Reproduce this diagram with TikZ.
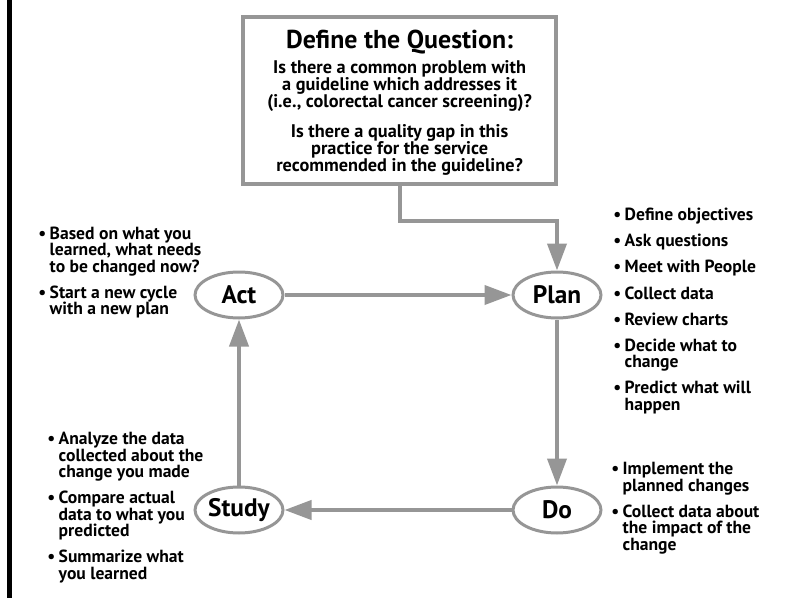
\documentclass[tikz,border=0pt]{standalone}
\usepackage{fontspec}
\setmainfont{PT Sans}
\usetikzlibrary{calc,shapes.geometric,arrows.meta}
\definecolor{linegray}{RGB}{150,150,150}
\newcommand{\bul}{\textbullet\hspace{0.2em}}
\newcommand{\ind}{\phantom{\textbullet\hspace{0.2em}}}
\lineskiplimit=-100pt

\begin{document}
\begin{tikzpicture}[
  phase/.style={ellipse,draw=linegray,line width=0.75mm,fill=white,minimum width=22mm,minimum height=11.5mm,inner sep=0pt,font=\fontsize{18}{20}\selectfont\bfseries},
  notes/.style={anchor=west,align=left,inner sep=0pt,font=\fontsize{12.5}{11.7}\selectfont\bfseries},
  flow/.style={draw=linegray,line width=1mm,-{Triangle[length=6.75mm,width=4.75mm]}}
]
\useasboundingbox (0,0) rectangle (197mm,-149.5mm);
\draw[line width=1.25mm] (2.4mm,0) -- (2.4mm,-149.5mm);

\draw node [draw=linegray,rectangle,line width=0.9mm,minimum width=78.25mm,minimum height=41.75mm](question) at (99.9mm,-25.1mm){};
\draw node (qtitle) at ($ (question) + (0mm,14.6mm) $){\fontsize{18.4}{20}\selectfont\bfseries Define the Question:};
\draw node [align=center,font=\fontsize{13}{12.1}\selectfont\bfseries] (qtext) at ($ (question) - (0mm,4.3mm) $){Is there a common problem with\\a guideline which addresses it\\(i.e., colorectal cancer screening)?\\[3.25mm]Is there a quality gap in this\\practice for the service\\recommended in the guideline?};

\draw node [phase] (act) at (59.75mm,-73.75mm){Act};
\draw node [phase] (plan) at (139.25mm,-73.75mm){Plan};
\draw node [phase] (study) at (59.75mm,-127.5mm){Study};
\draw node [phase] (do) at (139.25mm,-127.5mm){Do};

\draw[flow] (question.south) -- ++(0,-8.75mm) -| (plan.north);
\draw[flow] (act) -- (plan);
\draw[flow] (plan) -- (do);
\draw[flow] (do) -- (study);
\draw[flow] (study) -- (act);

\draw node [notes] (actnotes) at ($ (act) + (-50.25mm,5.6mm) $){\bul Based on what you\\\ind learned, what needs\\\ind to be changed now?\\[2.4mm]\bul Start a new cycle\\\ind with a new plan};

\draw node [notes] (plannotes) at ($ (plan) + (14mm,-4mm) $){\bul Define objectives\\[2.4mm]\bul Ask questions\\[2.4mm]\bul Meet with People\\[2.4mm]\bul Collect data\\[2.4mm]\bul Review charts\\[2.4mm]\bul Decide what to\\\ind change\\[2.4mm]\bul Predict what will\\\ind happen};

\draw node [notes] (donotes) at ($ (do) + (13.5mm,0.4mm) $){\bul Implement the\\\ind planned changes\\[2.4mm]\bul Collect data about\\\ind the impact of the\\\ind change};

\draw node [notes] (studynotes) at ($ (study) + (-48mm,0.6mm) $){\bul Analyze the data\\\ind collected about the\\\ind change you made\\[2.4mm]\bul Compare actual\\\ind data to what you\\\ind predicted\\[2.4mm]\bul Summarize what\\\ind you learned};

\end{tikzpicture}
\end{document}
